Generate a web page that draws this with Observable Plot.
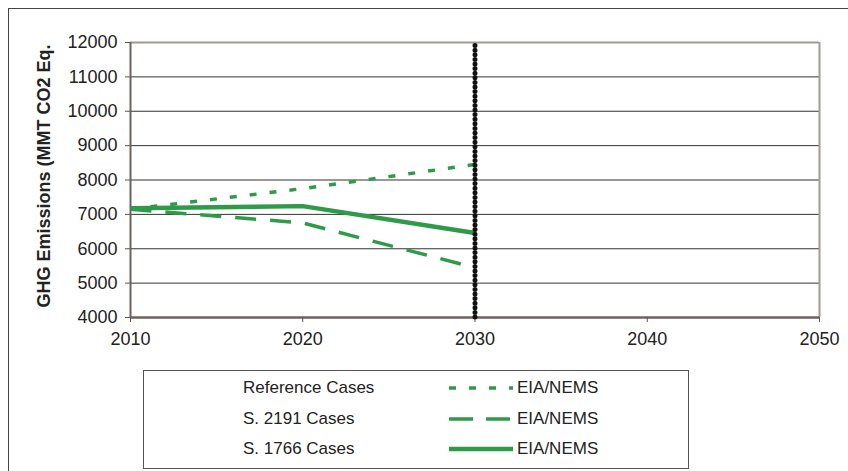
<!DOCTYPE html>
<html>
<head>
<meta charset="utf-8">
<script src="https://cdn.jsdelivr.net/npm/d3@7"></script>
<script src="https://cdn.jsdelivr.net/npm/@observablehq/plot@0.6"></script>
<style>
  html, body { margin: 0; padding: 0; background: #fff; }
  #wrap { position: relative; width: 848px; height: 471px; overflow: hidden; font-family: "Liberation Sans", Arial, sans-serif; }
  #frame { position: absolute; left: 8px; top: 8px; width: 860px; height: 480px; border-left: 1.5px solid #444; border-top: 1.5px solid #444; box-sizing: border-box; }
  #chart { position: absolute; left: 0; top: 0; }
  #legend { position: absolute; left: 143px; top: 370px; width: 546px; height: 99px; border: 1px solid #555; box-sizing: border-box; }
  .row { position: absolute; left: 0; height: 20px; width: 100%; font-size: 17px; color: #222; }
  .row .lab { position: absolute; left: 99px; top: 0; line-height: 20px; }
  .row svg { position: absolute; left: 304px; top: 4px; }
  .row .src { position: absolute; left: 373px; top: 0; line-height: 20px; }
</style>
</head>
<body>
<div id="wrap">
  <div id="frame"></div>
  <div id="chart"></div>
  <div id="legend"></div>
</div>
<script>
const years = [2010, 2020, 2030];
const referenceCases = [7150, 7750, 8450];
const s2191Cases = [7150, 6750, 5450];
const s1766Cases = [7180, 7240, 6460];
const xTicks = [2010, 2020, 2030, 2040, 2050];
const yTicks = [4000, 5000, 6000, 7000, 8000, 9000, 10000, 11000, 12000];
const seriesNames = ["Reference Cases", "S. 2191 Cases", "S. 1766 Cases"];
const sourceLabel = "EIA/NEMS";
const yLabel = "GHG Emissions (MMT CO2 Eq.";
const markerYear = 2030;

const green = "#2f9a48";
const styles = {
  "Reference Cases": {strokeWidth: 3.5, dash: "7,13", legendDash: "7,13"},
  "S. 2191 Cases": {strokeWidth: 3.5, dash: "21,14", legendDash: "24,13"},
  "S. 1766 Cases": {strokeWidth: 4.5, dash: null, legendDash: null}
};
const seriesValues = [referenceCases, s2191Cases, s1766Cases];
const series = seriesNames.map((name, i) => years.map((y, j) => ({year: y, value: seriesValues[i][j], name})));

const frameColor = "#a39a94";

const lineMarks = series.map(d => {
  const st = styles[d[0].name];
  return Plot.line(d, {x: "year", y: "value", stroke: green, strokeWidth: st.strokeWidth,
    strokeDasharray: st.dash || undefined, strokeLinecap: "butt"});
});

const plot = Plot.plot({
  width: 848,
  height: 360,
  marginTop: 42,
  marginLeft: 130,
  marginRight: 29,
  marginBottom: 43,
  style: {fontFamily: "'Liberation Sans', Arial, sans-serif", fontSize: "18px", color: "#222", background: "transparent", overflow: "visible"},
  x: {domain: [2010, 2050]},
  y: {domain: [4000, 12000]},
  marks: [
    Plot.gridY(yTicks, {stroke: "#333", strokeOpacity: 1, strokeWidth: 1}),
    Plot.ruleY([12000], {stroke: frameColor, strokeWidth: 2}),
    Plot.ruleX([2050], {stroke: frameColor, strokeWidth: 2}),
    Plot.ruleX([2010], {stroke: "#6e625c", strokeWidth: 2}),
    Plot.ruleY([4000], {stroke: "#6e625c", strokeWidth: 2.5}),
    Plot.axisY(yTicks, {tickFormat: d => String(d), tickSize: 5, tickPadding: 8, stroke: "#555", label: null, fontSize: 18}),
    Plot.axisX(xTicks, {tickFormat: d => String(d), tickSize: 5, tickPadding: 10, stroke: "#555", label: null, fontSize: 18}),
    ...lineMarks,
    Plot.ruleX([markerYear], {y1: 4000, y2: 12000, stroke: "#111", strokeWidth: 5, strokeDasharray: "0,4.6", strokeLinecap: "round"}),
    Plot.text([yLabel], {frameAnchor: "left", textAnchor: "middle", rotate: -90, dx: -86, dy: -4, fontWeight: "bold", fontSize: 17.5, fill: "#222"})
  ]
});
plot.querySelectorAll("text").forEach(t => { if (!t.getAttribute("font-size")) t.setAttribute("font-size", "18"); });
document.getElementById("chart").appendChild(plot);

// legend
const legend = document.getElementById("legend");
const rowTops = [7, 38, 68];
seriesNames.forEach((name, i) => {
  const st = styles[name];
  const row = document.createElement("div");
  row.className = "row";
  row.style.top = rowTops[i] + "px";
  row.innerHTML = `<span class="lab">${name}</span>
    <svg width="66" height="12"><line x1="1" y1="6" x2="65" y2="6" stroke="${green}" stroke-width="${st.strokeWidth}" ${st.legendDash ? `stroke-dasharray="${st.legendDash}"` : ""}/></svg>
    <span class="src">${sourceLabel}</span>`;
  legend.appendChild(row);
});
</script>
</body>
</html>
